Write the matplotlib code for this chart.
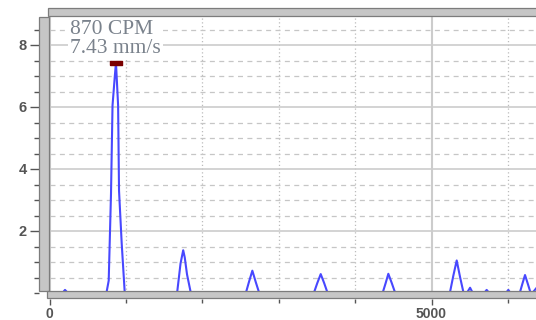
import matplotlib.pyplot as plt
from matplotlib.patches import Rectangle
from matplotlib.ticker import MultipleLocator, FixedLocator

# vibration spectrum: frequency (CPM) / amplitude (mm/s)
freq_cpm = [0, 170, 203, 240,
            745, 775, 805, 825, 855, 870, 898, 910, 945, 985,
            1670, 1715, 1750, 1770, 1800, 1850,
            2570, 2610, 2655, 2700, 2745,
            3460, 3505, 3550, 3595, 3640,
            4360, 4400, 4435, 4480, 4525,
            5240, 5285, 5330, 5375, 5420, 5470, 5505, 5540,
            5690, 5722, 5755, 5975, 6005, 6035,
            6155, 6190, 6224, 6260, 6298, 6330, 6370]
amp_mms = [0, 0, 0.1, 0,
           0, 0.4, 3.2, 6.05, 7.0, 7.43, 6.05, 3.3, 1.6, 0,
           0, 0.95, 1.38, 1.15, 0.6, 0,
           0, 0.35, 0.72, 0.35, 0,
           0, 0.32, 0.61, 0.32, 0,
           0, 0.32, 0.62, 0.32, 0,
           0, 0.55, 1.05, 0.5, 0, 0.03, 0.17, 0,
           0, 0.1, 0, 0, 0.1, 0,
           0, 0.3, 0.58, 0.3, 0, 0.03, 0.15]

peak_cpm = 870
peak_mms = 7.43
peak_label = "870 CPM\n7.43 mm/s"

x_major = [0, 5000]
y_major = [2, 4, 6, 8]

W, H = 536, 320
fig = plt.figure(figsize=(W / 100, H / 100), dpi=100)
ax = fig.add_axes([49.5 / W, 1 - 293 / H, 1 - 49.5 / W, (293 - 16) / H])

ax.plot(freq_cpm, amp_mms, color="#4848ff", lw=1.5, zorder=3)
marker = [(-1, -0.4), (1, -0.4), (1, 0.4), (-1, 0.4), (-1, -0.4)]
ax.plot([peak_cpm], [peak_mms], ls="none", marker=marker, ms=8.6,
        color="#7a0000", zorder=4, clip_on=False)

ax.set_xlim(0, (536 - 49.5) / 0.0764)
ax.set_ylim(0, 277 / 31)

ax.xaxis.set_major_locator(FixedLocator(x_major))
ax.xaxis.set_minor_locator(MultipleLocator(1000))
ax.yaxis.set_major_locator(FixedLocator(y_major))
ax.yaxis.set_minor_locator(MultipleLocator(0.5))

ax.set_axisbelow(True)
ax.grid(which="major", axis="y", color="#cccccc", lw=1.2, ls="-")
ax.grid(which="minor", axis="y", color="#c6c6c6", lw=0.9, ls=(0, (4, 3.5)))
ax.grid(which="major", axis="x", color="#cccccc", lw=1.5, ls="-")
ax.grid(which="minor", axis="x", color="#bcbcbc", lw=0.9, ls=(0, (1, 2)))

for s in ax.spines.values():
    s.set_visible(False)
ax.spines["left"].set_position(("outward", 7.9))
ax.spines["bottom"].set_position(("outward", 4))

ax.tick_params(axis="y", which="major", length=6.5, width=1, color="#555555",
               pad=2, labelsize=10.5, labelcolor="#555555")
ax.tick_params(axis="y", which="minor", length=3.6, width=1, color="#555555")
ax.tick_params(axis="x", which="major", length=4.3, width=1, color="#555555",
               pad=1.5, labelsize=10, labelcolor="#555555")
ax.tick_params(axis="x", which="minor", length=2.8, width=1, color="#555555")
for lab in ax.get_xticklabels() + ax.get_yticklabels():
    lab.set_family("Liberation Sans")
    lab.set_fontweight("bold")


def bar(x0, y0, x1, y1):
    # grey frame bar, given in pixels from the top-left corner
    fig.add_artist(Rectangle((x0 / W, 1 - y1 / H), (x1 - x0) / W, (y1 - y0) / H,
                             transform=fig.transFigure, fc="#c6c6c6",
                             ec="#7c7c7c", lw=0.9, zorder=2))


bar(38.5, 17, 48.5, 291)
bar(47, 291, 540, 298)
bar(48, 8, 540, 16)

fig.text(70 / W, 1 - 20 / H, peak_label, ha="left", va="top",
         family="Liberation Serif", fontsize=15.5, color="#7a828c",
         linespacing=1.02, zorder=5,
         bbox=dict(fc="white", ec="none", pad=1.5))

fig.savefig("out.png", dpi=100)
